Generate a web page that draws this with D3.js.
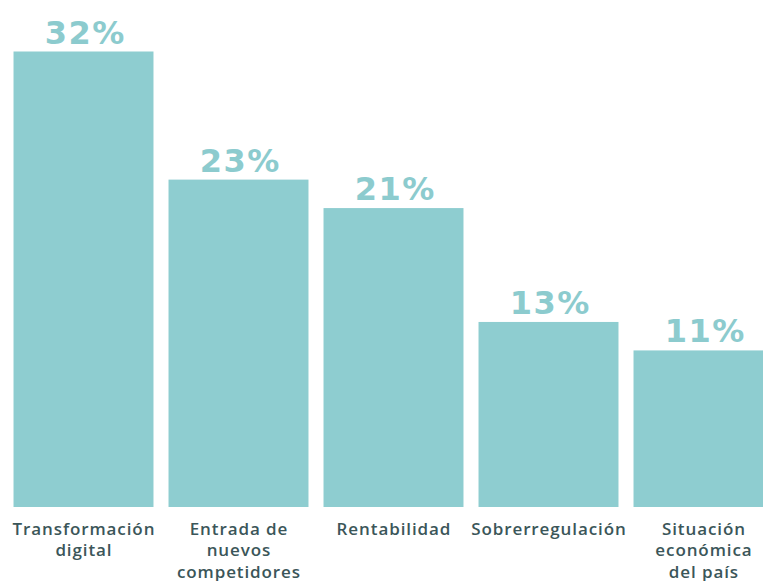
<!DOCTYPE html>
<html lang="es">
<head>
<meta charset="utf-8">
<script src="https://cdn.jsdelivr.net/npm/d3@7"></script>
<style>
  html, body { margin: 0; padding: 0; background: #ffffff; }
  svg { display: block; }
</style>
</head>
<body>
<svg id="chart" width="763" height="581"></svg>
<script>
// Share of respondents per main challenge (percent)
const categories = [
  "Transformación digital",
  "Entrada de nuevos competidores",
  "Rentabilidad",
  "Sobrerregulación",
  "Situación económica del país"
];
const values = [32, 23, 21, 13, 11];
// How each category name breaks into lines under its bar
const categoryLines = [
  ["Transformación", "digital"],
  ["Entrada de", "nuevos", "competidores"],
  ["Rentabilidad"],
  ["Sobrerregulación"],
  ["Situación", "económica", "del país"]
];

const barColor = "#8ecdd0";
const valueColor = "#8ccbce";
const textColor = "#3b5659";

const svg = d3.select("#chart");

const x = d3.scaleBand()
  .domain(categories)
  .range([6, 781])
  .paddingInner(0.097)
  .paddingOuter(0.0485);

const y = d3.scaleLinear()
  .domain([0, 32])
  .range([507, 51.5]);

const g = svg.append("g");

g.selectAll("rect.bar")
  .data(categories)
  .join("rect")
  .attr("class", "bar")
  .attr("x", d => x(d))
  .attr("width", x.bandwidth())
  .attr("y", (d, i) => y(values[i]))
  .attr("height", (d, i) => y(0) - y(values[i]))
  .attr("fill", barColor);

// Value labels above each bar; spacing offset keeps them centred
const valueSpacing = 1.5;
g.selectAll("text.value")
  .data(categories)
  .join("text")
  .attr("class", "value")
  .attr("x", d => x(d) + x.bandwidth() / 2 + valueSpacing / 2 + 1)
  .attr("y", (d, i) => y(values[i]) - 8)
  .attr("text-anchor", "middle")
  .attr("font-family", "'DejaVu Sans', sans-serif")
  .attr("font-weight", 700)
  .attr("font-size", 32)
  .attr("letter-spacing", valueSpacing)
  .attr("fill", valueColor)
  .text((d, i) => values[i] + "%");

// Category names below the baseline, centred on each bar
const labelSpacing = 0.9;
const labels = g.selectAll("text.cat")
  .data(categories)
  .join("text")
  .attr("class", "cat")
  .attr("text-anchor", "middle")
  .attr("font-family", "'Open Sans', sans-serif")
  .attr("font-weight", 600)
  .attr("font-size", 17)
  .attr("letter-spacing", labelSpacing)
  .attr("fill", textColor);

labels.each(function(d, i) {
  const cx = x(d) + x.bandwidth() / 2 + labelSpacing / 2;
  d3.select(this).selectAll("tspan")
    .data(categoryLines[i])
    .join("tspan")
    .attr("x", cx)
    .attr("y", (line, j) => y(0) + 27.5 + j * 21.5)
    .text(line => line);
});
</script>
</body>
</html>
